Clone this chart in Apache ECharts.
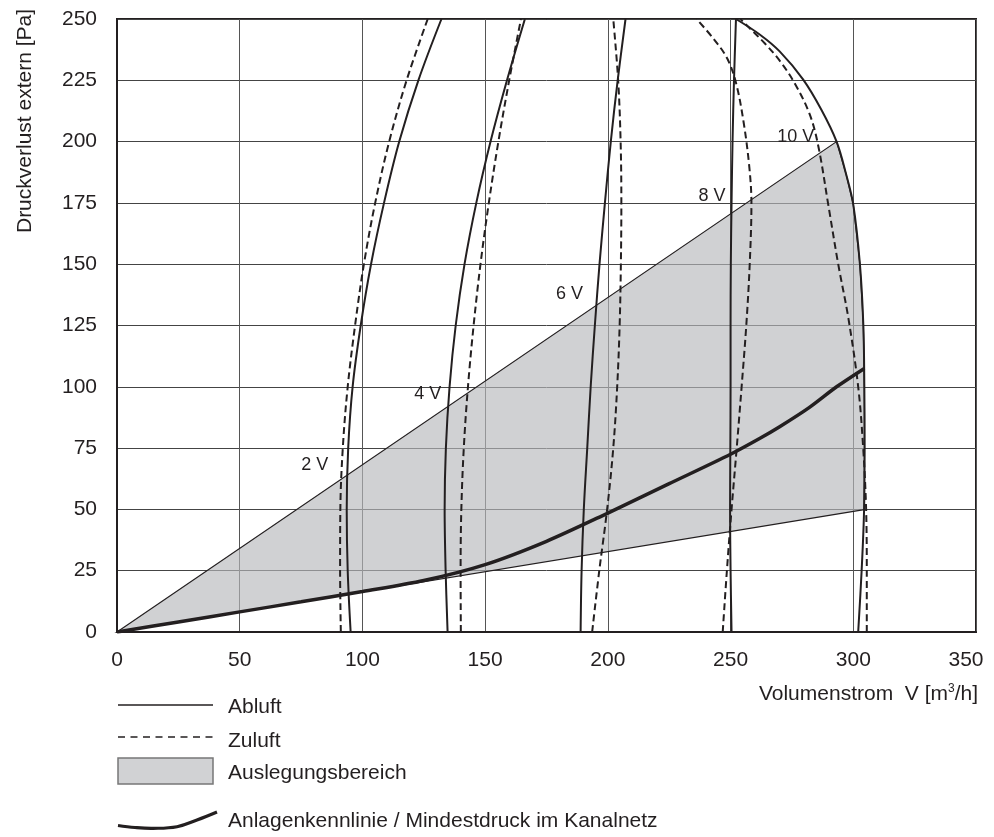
<!DOCTYPE html>
<html>
<head>
<meta charset="utf-8">
<script src="https://cdn.jsdelivr.net/npm/echarts@6/dist/echarts.min.js"></script>
<style>html,body{margin:0;padding:0;background:#fff}#c{width:994px;height:837px}</style>
</head>
<body>
<div id="c"></div>
<script>
// ---- data (Volumenstrom [m3/h], Druckverlust [Pa]) ----
const xTicks = [0, 50, 100, 150, 200, 250, 300, 350];
const yTicks = [0, 25, 50, 75, 100, 125, 150, 175, 200, 225, 250];

const abluft2V = [[95.2,0],[94.0,25],[93.6,50],[94.2,75],[96.0,100],[99.3,125],[103.5,150],[108.8,175],[115.0,200],[122.8,225],[132.2,250]];
const zuluft2V = [[91.2,0],[90.9,25],[91.0,50],[92.0,75],[94.0,100],[97.0,125],[100.6,150],[105.2,175],[110.9,200],[118.0,225],[126.6,250]];
const abluft4V = [[134.7,0],[133.9,25],[133.5,50],[134.0,75],[135.5,100],[138.0,125],[141.6,150],[146.4,175],[152.2,200],[158.9,225],[166.2,250]];
const zuluft4V = [[140.1,0],[140.0,25],[140.3,50],[141.3,75],[143.0,100],[145.3,125],[148.1,150],[151.5,175],[155.4,200],[159.8,225],[164.6,250]];
const abluft6V = [[188.9,0],[189.3,25],[190.2,50],[191.6,75],[193.0,100],[194.7,125],[196.6,150],[198.8,175],[201.2,200],[204.0,225],[207.2,250]];
const zuluft6V = [[193.6,0],[196.5,25],[199.7,50],[202.2,75],[203.8,100],[204.8,125],[205.3,150],[205.5,175],[205.2,200],[204.2,225],[202.2,250]];
const abluft8V = [[250.4,0],[250.0,25],[249.8,50],[249.9,75],[250.0,100],[250.0,125],[250.1,150],[250.4,175],[250.8,200],[251.4,225],[252.2,250]];
const zuluft8V = [[246.8,0],[248.5,25],[250.4,50],[252.5,75],[254.5,100],[256.4,125],[257.8,150],[258.5,175],[257.6,190],[255.3,208],[252.2,224],[248.6,234],[243.4,241.5],[236.2,250]];
const abluft10V = [[302.0,0],[303.4,25],[304.4,50],[304.6,76],[304.5,100],[304.1,125],[302.7,150],[300.0,174.3],[297.0,187],[293.2,200],[287.0,213],[279.6,225.3],[270.0,236.8],[262.0,243.6],[252.2,250]];
const zuluft10V = [[305.5,0],[305.5,25],[305.2,51],[304.0,75.6],[302.0,100],[298.0,128],[293.9,149.8],[289.8,174.3],[285.9,197.4],[282.3,211],[276.0,224],[270.0,233],[264.0,240],[257.5,246.5],[254.0,250]];

const anlagenkennlinie = [[0,0],[25,4.1],[50,8.2],[75,12.3],[100,16.5],[125,21],[150,27.5],[175,37],[200,48.5],[225,60.5],[250,72.5],[262,79],[270,83.7],[282,91.5],[293.2,100],[304.5,107.5]];

const auslegungsbereich = [[0,0],[293.2,200],[297.0,187],[300.0,174.3],[302.7,150],[304.1,125],[304.5,100],[304.6,76],[304.4,50],[303.8,49.8],[0,0]];

const voltNames = ['2 V','4 V','6 V','8 V','10 V'];
const voltLabelAt = [[80.6,68],[126.6,97],[184.4,137.8],[242.4,177.8],[276.6,201.9]];

// ---- chart ----
const INK = '#231f20';
const FONT = '"Liberation Sans", Arial, sans-serif';
const chart = echarts.init(document.getElementById('c'), null, {renderer:'canvas'});

function curve(name, data, dashed) {
  return {
    type:'line', name, data, smooth:0.35, showSymbol:false, symbol:'none',
    silent:true, z:3, clip:true,
    lineStyle:{color:INK, width:2, type: dashed ? [7,4] : 'solid'}
  };
}

const option = {
  animation:false,
  backgroundColor:'#fff',
  textStyle:{fontFamily:FONT, color:INK},
  grid:{left:117, right:18, top:19, bottom:205, show:true, borderColor:INK, borderWidth:2, backgroundColor:'transparent'},
  xAxis:{
    type:'value', min:xTicks[0], max:xTicks[xTicks.length-1], interval:50,
    axisLine:{show:true, lineStyle:{color:INK, width:2}},
    axisTick:{show:false},
    axisLabel:{color:INK, fontSize:21, fontFamily:FONT, margin:18,
      formatter:(v)=> v===350 ? '{e|350}' : String(v),
      rich:{e:{fontSize:21, fontFamily:FONT, color:INK, padding:[0,20,0,0]}}},
    splitLine:{show:true, lineStyle:{color:'#555', width:1}}
  },
  yAxis:{
    type:'value', min:yTicks[0], max:yTicks[yTicks.length-1], interval:25,
    axisLine:{show:true, lineStyle:{color:INK, width:2}},
    axisTick:{show:false},
    axisLabel:{color:INK, fontSize:21, fontFamily:FONT, margin:20},
    splitLine:{show:true, lineStyle:{color:'#444', width:1}}
  },
  series:[
    {
      type:'custom', name:'Auslegungsbereich', data:auslegungsbereich, silent:true, z:1,
      renderItem:(params, api)=>{
        if (params.dataIndex !== 0) return null;
        const pts = auslegungsbereich.map(p=>api.coord(p));
        return {type:'polygon', shape:{points:pts},
          style:{fill:'rgba(183,184,187,0.65)', stroke:INK, lineWidth:1.2}};
      }
    },
    curve('Abluft 2V', abluft2V, false),
    curve('Zuluft 2V', zuluft2V, true),
    curve('Abluft 4V', abluft4V, false),
    curve('Zuluft 4V', zuluft4V, true),
    curve('Abluft 6V', abluft6V, false),
    curve('Zuluft 6V', zuluft6V, true),
    curve('Abluft 8V', abluft8V, false),
    curve('Zuluft 8V', zuluft8V, true),
    curve('Abluft 10V', abluft10V, false),
    curve('Zuluft 10V', zuluft10V, true),
    {
      type:'line', name:'Anlagenkennlinie', data:anlagenkennlinie, smooth:0.3, showSymbol:false, symbol:'none',
      silent:true, z:4, lineStyle:{color:INK, width:3.5}
    },
    {
      type:'scatter', name:'Spannung', symbolSize:1, silent:true, z:5,
      itemStyle:{opacity:0},
      data: voltLabelAt.map((p,i)=>({value:p, name:voltNames[i]})),
      label:{show:true, position:'inside', formatter:(p)=>p.name, color:INK, opacity:1, fontSize:18, fontFamily:FONT}
    }
  ],
  graphic:[
    {type:'text', x:25, y:121, rotation:Math.PI/2,
      style:{text:'Druckverlust extern [Pa]', fontSize:21, fontFamily:FONT, fill:INK, align:'center', verticalAlign:'middle'}},
    {type:'text', x:978, y:694,
      style:{rich:{a:{fontSize:21, fontFamily:FONT, fill:INK}, s:{fontSize:12, fontFamily:FONT, fill:INK, verticalAlign:'top', padding:[0,0,10,0]}},
        text:'{a|Volumenstrom  V [m}{s|3}{a|/h]}', align:'right', verticalAlign:'middle'}},
    // legend
    {type:'line', shape:{x1:118, y1:705, x2:213, y2:705}, style:{stroke:INK, lineWidth:1.5}},
    {type:'text', x:228, y:707, style:{text:'Abluft', fontSize:21, fontFamily:FONT, fill:INK, verticalAlign:'middle'}},
    {type:'line', shape:{x1:118, y1:737, x2:213, y2:737}, style:{stroke:INK, lineWidth:1.5, lineDash:[7,5.5]}},
    {type:'text', x:228, y:741, style:{text:'Zuluft', fontSize:21, fontFamily:FONT, fill:INK, verticalAlign:'middle'}},
    {type:'rect', shape:{x:118, y:758, width:95, height:26}, style:{fill:'#d1d2d4', stroke:'#777', lineWidth:1.5}},
    {type:'text', x:228, y:773, style:{text:'Auslegungsbereich', fontSize:21, fontFamily:FONT, fill:INK, verticalAlign:'middle'}},
    {type:'polyline', shape:{points:[[118,825.5],[135,827.5],[153,828.3],[177,826.7],[197,820],[217,812]], smooth:0.4}, style:{stroke:INK, lineWidth:3.2, fill:null}},
    {type:'text', x:228, y:821, style:{text:'Anlagenkennlinie / Mindestdruck im Kanalnetz', fontSize:21, fontFamily:FONT, fill:INK, verticalAlign:'middle'}}
  ]
};
chart.setOption(option);
</script>
</body>
</html>
